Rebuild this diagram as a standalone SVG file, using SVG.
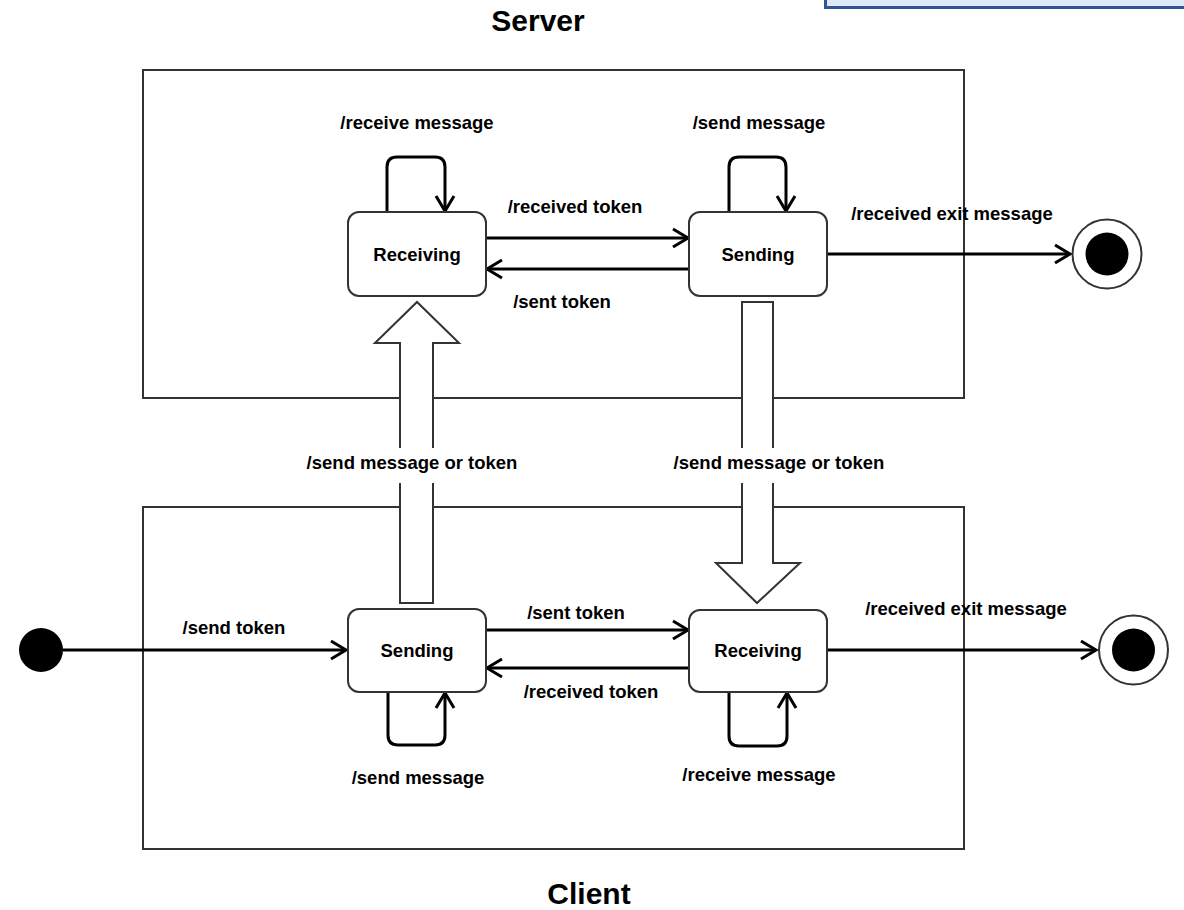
<svg xmlns="http://www.w3.org/2000/svg" width="1184" height="910" viewBox="0 0 1184 910">
  <style>
    .frame { fill: none; stroke: #333333; stroke-width: 2; }
    .state { fill: #ffffff; stroke: #333333; stroke-width: 2; }
    .wire { fill: none; stroke: #000000; stroke-width: 3; }
    .block { fill: #ffffff; stroke: #333333; stroke-width: 2; }
    .lbl { font-family: "Liberation Sans", Arial, sans-serif; font-weight: bold; font-size: 18.5px; fill: #000000; text-anchor: middle; }
    .title { font-family: "Liberation Sans", Arial, sans-serif; font-weight: bold; font-size: 30px; fill: #000000; text-anchor: middle; }
  </style>
  <defs>
    <marker id="open" markerUnits="userSpaceOnUse" markerWidth="24" markerHeight="24" viewBox="-20 -12 24 24" refX="0" refY="0" orient="auto">
      <path d="M-15,-9 L0,0 L-15,9" fill="none" stroke="#000000" stroke-width="3"/>
    </marker>
  </defs>

  <rect width="1184" height="910" fill="#ffffff"/>

  <!-- note box clipped at the top edge -->
  <rect x="825.5" y="-20" width="400" height="27.5" fill="#DEEAF6" stroke="#2F5597" stroke-width="3"/>

  <!-- composite state frames -->
  <g id="server-frame">
    <rect class="frame" x="143" y="70" width="821" height="328"/>
    <text class="title" x="538" y="31">Server</text>
  </g>
  <g id="client-frame">
    <rect class="frame" x="143" y="507" width="821" height="342"/>
    <text class="title" x="589" y="904">Client</text>
  </g>

  <g id="connectors">
    <!-- block arrows between the two machines -->
    <polygon class="block" points="400,603 400,343 375,343 417,302 459,343 433,343 433,603"/>
    <polygon class="block" points="742,302 773,302 773,563 800,563 757,603 716,563 742,563"/>
    <rect x="298" y="448" width="228" height="35" fill="#ffffff"/>
    <rect x="666" y="448" width="228" height="35" fill="#ffffff"/>
    <text class="lbl" x="412" y="469">/send message or token</text>
    <text class="lbl" x="779" y="469">/send message or token</text>

    <!-- server transitions -->
    <path class="wire" d="M387,212 V167 Q387,157 397,157 H435 Q445,157 445,167 V211" marker-end="url(#open)"/>
    <text class="lbl" x="417" y="129">/receive message</text>
    <path class="wire" d="M729,212 V167 Q729,157 739,157 H776 Q786,157 786,167 V211" marker-end="url(#open)"/>
    <text class="lbl" x="759" y="129">/send message</text>
    <path class="wire" d="M486,238 H688" marker-end="url(#open)"/>
    <text class="lbl" x="575" y="213">/received token</text>
    <path class="wire" d="M689,269 H487" marker-end="url(#open)"/>
    <text class="lbl" x="562" y="308">/sent token</text>
    <path class="wire" d="M827,254 H1070" marker-end="url(#open)"/>
    <text class="lbl" x="952" y="220">/received exit message</text>

    <!-- client transitions -->
    <path class="wire" d="M63,650 H346" marker-end="url(#open)"/>
    <text class="lbl" x="234" y="634">/send token</text>
    <path class="wire" d="M486,630 H688" marker-end="url(#open)"/>
    <text class="lbl" x="576" y="619">/sent token</text>
    <path class="wire" d="M689,668 H487" marker-end="url(#open)"/>
    <text class="lbl" x="591" y="698">/received token</text>
    <path class="wire" d="M827,650 H1096" marker-end="url(#open)"/>
    <text class="lbl" x="966" y="615">/received exit message</text>
    <path class="wire" d="M388,692 V735 Q388,745 398,745 H435 Q445,745 445,735 V693" marker-end="url(#open)"/>
    <text class="lbl" x="418" y="784">/send message</text>
    <path class="wire" d="M729,692 V736 Q729,746 739,746 H777 Q787,746 787,736 V693" marker-end="url(#open)"/>
    <text class="lbl" x="759" y="781">/receive message</text>
  </g>

  <!-- server states -->
  <g id="server-receiving">
    <rect class="state" x="348" y="212" width="138" height="84" rx="11"/>
    <text class="lbl" x="417" y="261">Receiving</text>
  </g>
  <g id="server-sending">
    <rect class="state" x="689" y="212" width="138" height="84" rx="11"/>
    <text class="lbl" x="758" y="261">Sending</text>
  </g>
  <g id="server-final">
    <circle cx="1107" cy="254" r="34.5" fill="#ffffff" stroke="#333333" stroke-width="2"/>
    <circle cx="1107" cy="254" r="21.5" fill="#000000"/>
  </g>

  <!-- client states -->
  <g id="client-initial">
    <circle cx="41" cy="650" r="22" fill="#000000"/>
  </g>
  <g id="client-sending">
    <rect class="state" x="348" y="609" width="138" height="83" rx="11"/>
    <text class="lbl" x="417" y="657">Sending</text>
  </g>
  <g id="client-receiving">
    <rect class="state" x="689" y="610" width="138" height="82" rx="11"/>
    <text class="lbl" x="758" y="657">Receiving</text>
  </g>
  <g id="client-final">
    <circle cx="1133.5" cy="650" r="34.5" fill="#ffffff" stroke="#333333" stroke-width="2"/>
    <circle cx="1133.5" cy="650" r="21.5" fill="#000000"/>
  </g>
</svg>
